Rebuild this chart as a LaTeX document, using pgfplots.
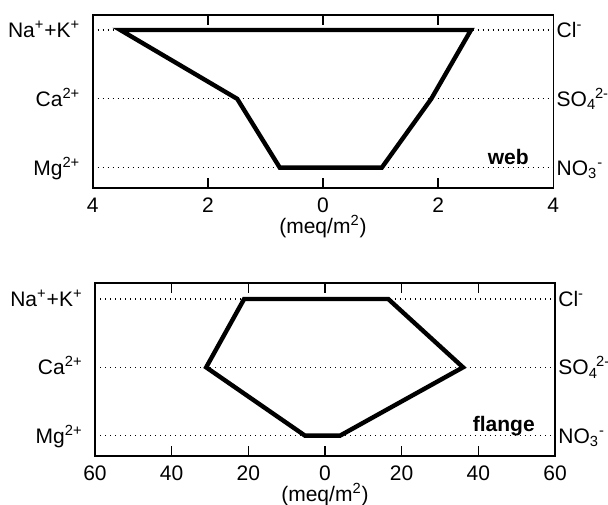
\documentclass[border=0pt]{standalone}
\usepackage{fontspec}
\setmainfont{Liberation Sans}
\usepackage{pgfplots}
\pgfplotsset{compat=1.18}

\pgfplotsset{stiff/.style={
  scale only axis,
  clip=false,
  axis line style={line width=0.8pt},
  xtick style={black, line width=0.7pt},
  major tick length=5pt,
  tick align=inside,
  ytick={1,2,3},
  yticklabels={Mg\textsuperscript{2+},Ca\textsuperscript{2+},Na\textsuperscript{+}+K\textsuperscript{+}},
  ytick style={draw=none},
  ymajorgrids,
  grid style={black, line width=0.55pt, dash pattern=on 0.55pt off 1.95pt},
  ytick pos=left,
  tick label style={font=\fontsize{10.5}{12}\selectfont},
  xticklabel style={yshift=-1.5pt},
  yticklabel style={text depth=0pt, text height=7.5pt, inner sep=0pt, xshift=-6pt},
  xlabel={(meq/m\textsuperscript{2})},
  xlabel style={font=\fontsize{10.5}{12}\selectfont, inner sep=0pt, yshift=2.2pt},
}}
\tikzset{rl/.style={anchor=west, inner sep=0pt, xshift=1.5pt, text depth=0pt, text height=7.5pt, font=\fontsize{10.5}{12}\selectfont}}

\begin{document}
\begin{tikzpicture}
\path[use as bounding box] (0,0) rectangle (304pt,-252pt);

\begin{axis}[stiff, at={(46.35pt,-7.5pt)}, anchor=north west,
  width=230.3pt, height=86.5pt,
  xmin=-4, xmax=4, ymin=0.705, ymax=3.218,
  xtick={-4,-2,0,2,4}, xticklabels={4,2,0,2,4}]
\addplot[black, line width=2.2pt, mark=none] coordinates {
  (-3.52,3) (-1.49,2) (-0.75,1) (1.02,1) (1.88,2) (2.57,3)
} -- cycle;
\node[rl] at (axis cs:4,3) {Cl\textsuperscript{-}};
\node[rl] at (axis cs:4,2) {SO\textsubscript{4}\kern-0.6pt\textsuperscript{2-}};
\node[rl] at (axis cs:4,1) {NO\textsubscript{3}\textsuperscript{-}};
\node[anchor=base east, inner sep=0pt, font=\fontsize{10.5}{12}\selectfont\bfseries] at (axis cs:3.58,1.04) {web};
\end{axis}

\begin{axis}[stiff, at={(47.5pt,-141.5pt)}, anchor=north west,
  width=230pt, height=86.35pt,
  xmin=-60, xmax=60, ymin=0.707, ymax=3.234,
  xtick={-60,-40,-20,0,20,40,60}, xticklabels={60,40,20,0,20,40,60}]
\addplot[black, line width=2.2pt, mark=none] coordinates {
  (-21.1,3) (-31.0,2) (-5.2,1) (3.9,1) (36.0,2) (16.5,3)
} -- cycle;
\node[rl] at (axis cs:60,3) {Cl\textsuperscript{-}};
\node[rl] at (axis cs:60,2) {SO\textsubscript{4}\kern-0.9pt\textsuperscript{2-}};
\node[rl] at (axis cs:60,1) {NO\textsubscript{3}\textsuperscript{-}};
\node[anchor=base east, inner sep=0pt, font=\fontsize{10.5}{12}\selectfont\bfseries] at (axis cs:54.8,1.06) {flange};
\end{axis}
\end{tikzpicture}
\end{document}
